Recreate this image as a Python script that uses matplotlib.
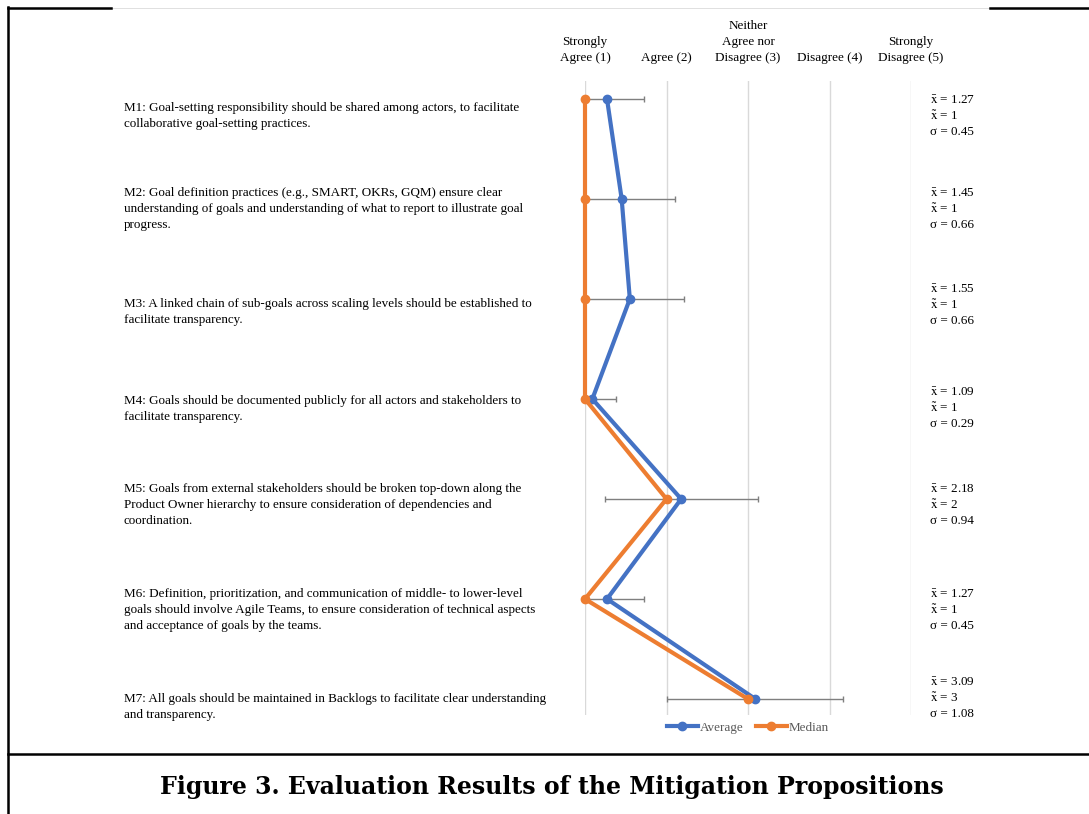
import matplotlib
matplotlib.use("Agg")
import matplotlib.pyplot as plt
from matplotlib.lines import Line2D
from matplotlib.transforms import blended_transform_factory

plt.rcParams["mathtext.fontset"] = "stix"

# Likert scale headings (value 1..5)
scale_labels = ["Strongly\nAgree (1)", "Agree (2)", "Neither\nAgree nor\nDisagree (3)",
                "Disagree (4)", "Strongly\nDisagree (5)"]
scale_values = [1, 2, 3, 4, 5]

propositions = [
    "M1: Goal-setting responsibility should be shared among actors, to facilitate\n"
    "collaborative goal-setting practices.",
    "M2: Goal definition practices (e.g., SMART, OKRs, GQM) ensure clear\n"
    "understanding of goals and understanding of what to report to illustrate goal\n"
    "progress.",
    "M3: A linked chain of sub-goals across scaling levels should be established to\n"
    "facilitate transparency.",
    "M4: Goals should be documented publicly for all actors and stakeholders to\n"
    "facilitate transparency.",
    "M5: Goals from external stakeholders should be broken top-down along the\n"
    "Product Owner hierarchy to ensure consideration of dependencies and\n"
    "coordination.",
    "M6: Definition, prioritization, and communication of middle- to lower-level\n"
    "goals should involve Agile Teams, to ensure consideration of technical aspects\n"
    "and acceptance of goals by the teams.",
    "M7: All goals should be maintained in Backlogs to facilitate clear understanding\n"
    "and transparency.",
]
average = [1.27, 1.45, 1.55, 1.09, 2.18, 1.27, 3.09]
median = [1, 1, 1, 1, 2, 1, 3]
std_dev = [0.45, 0.66, 0.66, 0.29, 0.94, 0.45, 1.08]

# vertical nudges (fraction of a row) for the text blocks beside each row
label_shift = [0.17, 0.10, 0.13, 0.10, 0.06, 0.11, 0.08]
stats_shift = [0.17, 0.10, 0.06, 0.09, 0.06, 0.11, -0.01]

BLUE = "#4472C4"
ORANGE = "#ED7D31"
SERIF = "Liberation Serif"
FS = 9.45
LS = 1.44

W, H = 1089, 814
fig = plt.figure(figsize=(W / 100, H / 100), dpi=100)
ax = fig.add_axes([585 / W, 1 - 715 / H, (911 - 585) / W, (715 - 81) / H])

rows = list(range(1, len(propositions) + 1))

ax.errorbar(average, rows, xerr=std_dev, fmt="none", ecolor="#7F7F7F",
            elinewidth=1.0, capsize=2.5, capthick=1.0, zorder=2)
ax.plot(average, rows, color=BLUE, lw=3.0, marker="o", ms=6, zorder=3,
        label="Average", clip_on=False)
ax.plot(median, rows, color=ORANGE, lw=3.0, marker="o", ms=6, zorder=4,
        label="Median", clip_on=False)

ax.set_xlim(1, 5)
ax.set_ylim(7.16, 0.82)
for v in scale_values:
    ax.axvline(v, color="#D9D9D9", lw=1.0, zorder=0)
for s in ax.spines.values():
    s.set_visible(False)
ax.set_xticks([])
ax.set_yticks([])

# scale headings above the columns
head_tr = blended_transform_factory(ax.transData, fig.transFigure)
for v, lab in zip(scale_values, scale_labels):
    ax.text(v, 1 - 64 / H, lab, transform=head_tr, ha="center", va="bottom",
            multialignment="center", fontsize=FS, family=SERIF, linespacing=LS)

# proposition texts and summary statistics
row_tr = blended_transform_factory(fig.transFigure, ax.transData)
for r, text, a, m, sd, ls, ss in zip(rows, propositions, average, median, std_dev,
                                     label_shift, stats_shift):
    ax.text(124 / W, r + ls, text, transform=row_tr, ha="left", va="center",
            fontsize=FS, family=SERIF, linespacing=LS)
    stats = (r"$\mathrm{\bar{x}}$" + f" = {a:g}\n" + r"$\mathrm{\tilde{x}}$"
             + f" = {m:g}\n\u03c3 = {sd:.2f}")
    ax.text(930 / W, r + ss, stats, transform=row_tr, ha="left", va="center",
            fontsize=FS, family=SERIF, linespacing=1.3)

leg = ax.legend(loc="upper center", bbox_to_anchor=(0.5, 0.008), ncol=2,
                frameon=False, handlelength=2.3, handletextpad=0.15,
                columnspacing=1.0, prop={"family": SERIF, "size": FS})
for t in leg.get_texts():
    t.set_color("#595959")

# frame around the figure panel
def fig_line(xs, ys, lw, color="black"):
    fig.add_artist(Line2D([x / W for x in xs], [1 - y / H for y in ys],
                          color=color, lw=lw, transform=fig.transFigure))

fig_line([8, W], [7.5, 7.5], 0.4, "#C8C8C8")
fig_line([8, 111], [7.5, 7.5], 1.8)
fig_line([990, W], [7.5, 7.5], 1.8)
fig_line([8, 8], [7, H], 1.8)
fig_line([8, W], [753.5, 753.5], 1.8)

fig.text(552 / W, 1 - 787 / H,
         "Figure 3. Evaluation Results of the Mitigation Propositions",
         ha="center", va="center", fontsize=17, fontweight="bold",
         family="DejaVu Serif")

fig.savefig("out.png", dpi=100)
